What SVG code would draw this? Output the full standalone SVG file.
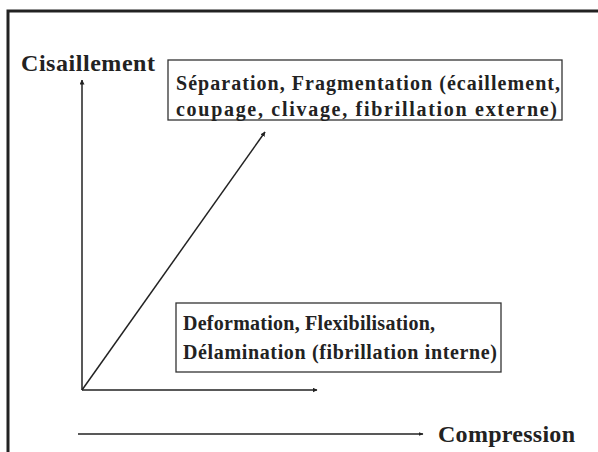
<svg xmlns="http://www.w3.org/2000/svg" width="598" height="452" viewBox="0 0 598 452">
  <style>
    .t { font-family: "Liberation Serif", "Times New Roman", serif; font-weight: bold; fill: #222; }
    .box { fill: #fff; stroke: #333; stroke-width: 1.3; }
    .ln { stroke: #222; stroke-width: 1.5; fill: none; }
    .frame { stroke: #222; stroke-width: 3; fill: none; }
  </style>
  <defs>
    <marker id="ah" viewBox="0 0 10 10" refX="9" refY="5" markerWidth="5" markerHeight="5" orient="auto" markerUnits="userSpaceOnUse">
      <path d="M0,0 L10,5 L0,10 z" fill="#222"/>
    </marker>
    <marker id="ahs" viewBox="0 0 10 10" refX="9" refY="5" markerWidth="5" markerHeight="5" orient="auto" markerUnits="userSpaceOnUse">
      <path d="M0,1 L10,5 L0,9 z" fill="#222"/>
    </marker>
  </defs>
  <rect width="598" height="452" fill="#fff"/>
  <g id="frame">
    <path class="frame" d="M8,452 L8,11 L598,11"/>
  </g>
  <g id="connectors">
    <line class="ln" x1="82" y1="390" x2="82" y2="80" marker-end="url(#ah)"/>
    <line class="ln" x1="82" y1="390" x2="317" y2="390" marker-end="url(#ah)"/>
    <line class="ln" x1="82" y1="390" x2="265" y2="132" marker-end="url(#ah)"/>
    <line class="ln" x1="78" y1="434" x2="423" y2="434" marker-end="url(#ahs)"/>
  </g>
  <g id="cisaillement">
    <text class="t" x="21" y="71" font-size="24" textLength="134" lengthAdjust="spacing">Cisaillement</text>
  </g>
  <g id="compression">
    <text class="t" x="438" y="442" font-size="24" textLength="137" lengthAdjust="spacing">Compression</text>
  </g>
  <g id="separation">
    <rect class="box" x="168" y="60" width="394" height="60"/>
    <text class="t" x="176" y="90" font-size="20" textLength="384" lengthAdjust="spacing">Séparation, Fragmentation (écaillement,</text>
    <text class="t" x="176" y="116" font-size="20" textLength="381" lengthAdjust="spacing">coupage, clivage, fibrillation externe)</text>
  </g>
  <g id="deformation">
    <rect class="box" x="176" y="303" width="325" height="69"/>
    <text class="t" x="183" y="330" font-size="20" textLength="252" lengthAdjust="spacing">Deformation, Flexibilisation,</text>
    <text class="t" x="183" y="359" font-size="20" textLength="314" lengthAdjust="spacing">Délamination (fibrillation interne)</text>
  </g>
</svg>
